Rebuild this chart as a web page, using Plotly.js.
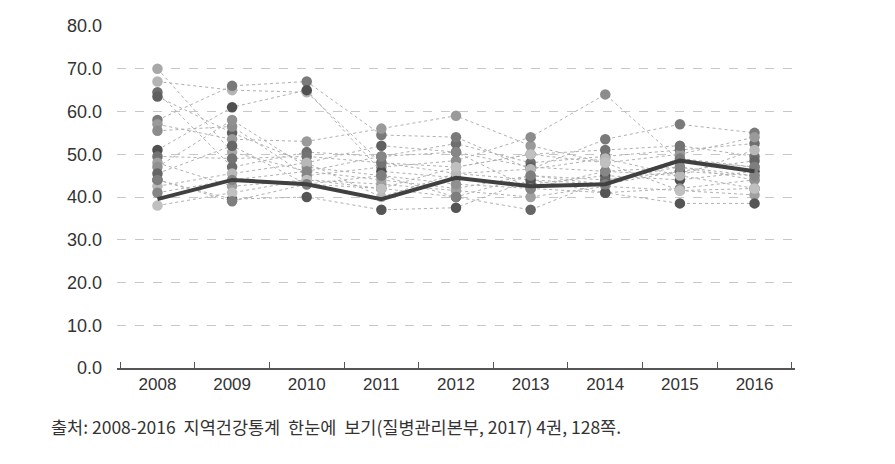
<!DOCTYPE html>
<html>
<head>
<meta charset="utf-8">
<script src="https://cdn.plot.ly/plotly-3.0.1.min.js"></script>
<style>html,body{margin:0;padding:0;background:#fff;}#chart{width:895px;height:464px;}</style>
</head>
<body>
<div id="chart"></div>
<script>
const years = ['2008','2009','2010','2011','2012','2013','2014','2015','2016'];
const yTickVals = [0,10,20,30,40,50,60,70,80];
const yTickText = ['0.0','10.0','20.0','30.0','40.0','50.0','60.0','70.0','80.0'];

// regional series (thin dotted lines)
const s01 = [70, 50.5, 46, 44, 42, 45, 44, 47, 44];
const s02 = [67, 65, 64.5, 48, 45.5, 44, 43, 46, 45];
const s03 = [64.5, 47, 50.5, 49.5, 52.5, 48, 49.5, 51, 52.5];
const s04 = [63.5, 55, 48, 52, 50.5, 47, 46, 45, 42];
const s05 = [58, 66, 67, 54.5, 54, 46.5, 53.5, 57, 55];
const s06 = [57, 53.5, 53, 56, 59, 52, 48, 50, 54];
const s07 = [55.5, 56.5, 45, 47, 48.5, 54, 64, 48.5, 47];
const s08 = [51, 61, 65, 46, 44.5, 43, 45, 44, 46];
const s09 = [49.5, 49, 49.5, 48, 47, 50, 51, 52, 49.5];
const s10 = [48, 42.5, 44, 43, 41.5, 40, 42.5, 41.5, 40.5];
const s11 = [47, 58, 47, 45, 43, 42, 41, 42, 44];
const s12 = [45.5, 52, 43, 42, 40, 37, 44, 46, 48.5];
const s13 = [44, 39.5, 40, 37, 37.5, 44, 41, 38.5, 38.5];
const s14 = [42.5, 45.5, 48, 40, 45.5, 46.5, 49, 45, 51];
const s15 = [41, 44, 46, 49.5, 50.5, 42, 46, 47, 45];
const s16 = [38, 41, 44, 42, 47, 50, 48, 41.5, 42];
const s17 = [44, 39, 43, 45, 40, 45, 43, 49, 47];
// national average (thick line)
const national = [39.5, 44, 43, 39.5, 44.5, 42.5, 43, 48.5, 46];

const regional = [s01,s02,s03,s04,s05,s06,s07,s08,s09,s10,s11,s12,s13,s14,s15,s16,s17];
const markerColors = ['#a8a8a8','#b4b4b4','#6e6e6e','#606060','#7a7a7a','#9a9a9a','#8c8c8c','#505050',
                      '#737373','#a0a0a0','#909090','#666666','#555555','#b8b8b8','#868686','#c0c0c0','#7e7e7e'];

const traces = regional.map((vals, i) => ({
  x: years, y: vals, type: 'scatter', mode: 'lines+markers',
  line: {color: '#b0b0b0', width: 1, dash: 'dot'},
  marker: {color: markerColors[i], size: 10.5},
  hoverinfo: 'y', showlegend: false
}));
traces.push({
  x: years, y: national, type: 'scatter', mode: 'lines',
  line: {color: '#404040', width: 4},
  showlegend: false
});

const layout = {
  width: 895, height: 464,
  margin: {l: 117, r: 100, t: 26, b: 96},
  paper_bgcolor: '#fff', plot_bgcolor: '#fff',
  showlegend: false,
  xaxis: {
    type: 'category', tickson: 'boundaries', ticks: 'inside', ticklen: 6,
    tickcolor: '#555', showline: true, linecolor: '#555', linewidth: 1.5,
    showgrid: false, zeroline: false,
    tickfont: {family: 'Liberation Sans, Arial', size: 17, color: '#333'}
  },
  yaxis: {
    range: [0, 80], tickvals: yTickVals, ticktext: yTickText,
    showgrid: true, gridcolor: '#c8c8c8', griddash: 'dash', gridwidth: 1,
    zeroline: false, showline: false, ticks: '', ticklabelstandoff: 14,
    tickfont: {family: 'Liberation Sans, Arial', size: 18, color: '#333'}
  },
  annotations: [{
    xref: 'paper', yref: 'paper', x: -0.1, y: -0.13, xanchor: 'left', yanchor: 'top',
    showarrow: false, align: 'left',
    text: '출처: 2008-2016  지역건강통계  한눈에  보기(질병관리본부, 2017) 4권, 128쪽.',
    font: {family: 'Noto Sans CJK KR, sans-serif', size: 17.5, color: '#333'}
  }]
};

Plotly.newPlot('chart', traces, layout, {displayModeBar: false, staticPlot: true});
</script>
</body>
</html>
